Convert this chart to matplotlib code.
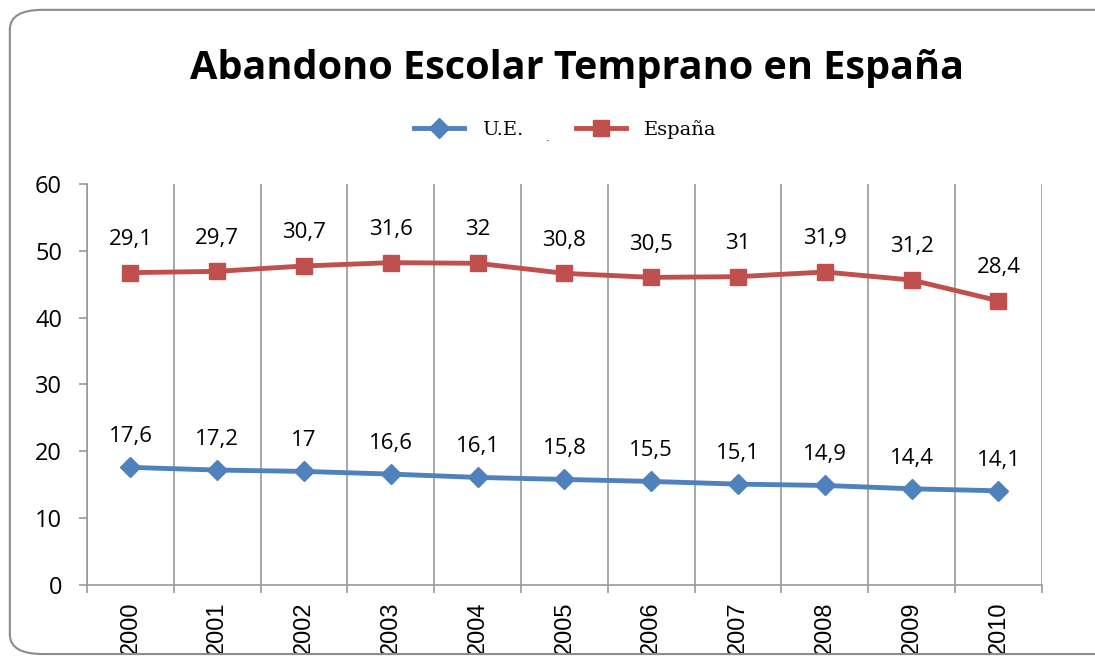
import matplotlib.pyplot as plt
from matplotlib.patches import FancyBboxPatch
from matplotlib.lines import Line2D

years = ['2000', '2001', '2002', '2003', '2004', '2005', '2006', '2007', '2008', '2009', '2010']
ue = [17.6, 17.2, 17.0, 16.6, 16.1, 15.8, 15.5, 15.1, 14.9, 14.4, 14.1]
espana = [29.1, 29.7, 30.7, 31.6, 32.0, 30.8, 30.5, 31.0, 31.9, 31.2, 28.4]

blue = '#4F81BD'
red = '#C0504D'
grid_col = '#9A9A9A'

def fmt(v):
    s = ('%.1f' % v).rstrip('0').rstrip('.')
    return s.replace('.', ',')

fig = plt.figure(figsize=(10.95, 6.56), dpi=100)
ax = fig.add_axes([0.0795, 0.108, 0.872, 0.612])

# stacked line chart: España drawn on top of U.E.
x = list(range(len(years)))
stacked = [a + b for a, b in zip(ue, espana)]

ax.plot(x, ue, color=blue, lw=3.5, marker='D', ms=10, mec=blue, zorder=3)
ax.plot(x, stacked, color=red, lw=3.5, marker='s', ms=12, mec=red, zorder=3)

for xi, v in zip(x, ue):
    ax.annotate(fmt(v), (xi, v), xytext=(0, 22), textcoords='offset points',
                ha='center', va='center', fontsize=16, family='Open Sans')
for xi, v, s in zip(x, espana, stacked):
    ax.annotate(fmt(v), (xi, s), xytext=(0, 24), textcoords='offset points',
                ha='center', va='center', fontsize=16, family='Open Sans')

ax.set_xlim(-0.5, len(years) - 0.5)
ax.set_ylim(0, 60)
ax.set_yticks(range(0, 61, 10))
ax.set_xticks([i - 0.5 for i in range(len(years) + 1)])
ax.set_xticklabels([])
ax.set_xticks(x, minor=True)
ax.set_xticklabels(years, minor=True, rotation=90, fontsize=17, family='Liberation Sans')
ax.tick_params(axis='x', which='minor', length=0, pad=12)
ax.tick_params(axis='x', which='major', length=6, color=grid_col, width=1.2)
ax.tick_params(axis='y', length=6, color=grid_col, width=1.2, labelsize=17, pad=12)
for lbl in ax.get_yticklabels():
    lbl.set_family('Open Sans')
ax.xaxis.grid(True, which='major', color=grid_col, lw=1.2)
for s in ['top', 'right']:
    ax.spines[s].set_visible(False)
for s in ['left', 'bottom']:
    ax.spines[s].set_color(grid_col)
    ax.spines[s].set_linewidth(1.2)

fig.text(0.527, 0.895, 'Abandono Escolar Temprano en España', ha='center', va='center',
         fontsize=28.5, fontweight='bold', family='Open Sans')

handles = [Line2D([], [], color=blue, lw=3.5, marker='D', ms=10),
           Line2D([], [], color=red, lw=3.5, marker='s', ms=12)]
fig.legend(handles, ['U.E.', 'España'], loc='center', bbox_to_anchor=(0.516, 0.803),
           ncol=2, frameon=False, prop={'family': 'DejaVu Serif', 'size': 14},
           handlelength=2.6, handletextpad=0.9, columnspacing=2.7)
fig.text(0.5, 0.79, '.', fontsize=8, ha='center', va='center')

frame = FancyBboxPatch((0.009, 0.003), 1.05, 0.982, boxstyle='round,pad=0,rounding_size=0.03',
                       transform=fig.transFigure, fill=False, ec='#8C8C8C', lw=1.5)
fig.patches.append(frame)

fig.savefig('out.png', dpi=100)
